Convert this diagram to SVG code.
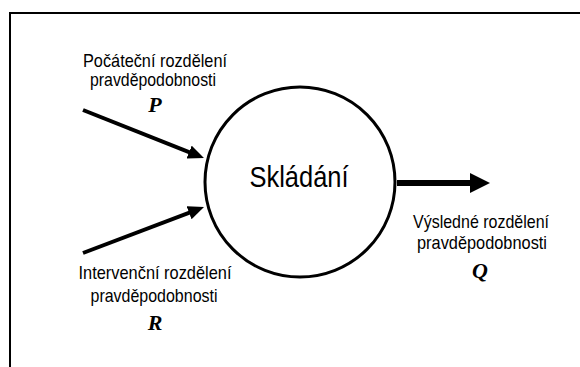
<svg xmlns="http://www.w3.org/2000/svg" width="580" height="367" viewBox="0 0 580 367">
  <style>
    .frame { fill: none; stroke: #000; stroke-width: 2; }
    .node { fill: #fff; stroke: #000; stroke-width: 3; }
    .lbl { font-family: "Liberation Sans", Arial, sans-serif; font-size: 19px; fill: #000; text-anchor: middle; }
    .big { font-family: "Liberation Sans", Arial, sans-serif; font-size: 29px; fill: #000; text-anchor: middle; }
    .sym { font-family: "Liberation Serif", "Times New Roman", serif; font-size: 22px; font-weight: bold; font-style: italic; fill: #000; text-anchor: middle; }
    .in { stroke: #000; stroke-width: 4; fill: none; }
    .out { stroke: #000; stroke-width: 6; fill: none; }
  </style>
  <defs>
    <marker id="headIn" markerUnits="userSpaceOnUse" markerWidth="16" markerHeight="14" refX="4" refY="7" orient="auto">
      <path d="M0,0 L16,7 L0,14 z" fill="#000"/>
    </marker>
    <marker id="headOut" markerUnits="userSpaceOnUse" markerWidth="20" markerHeight="20" refX="4" refY="10" orient="auto">
      <path d="M0,0 L20,10 L0,20 z" fill="#000"/>
    </marker>
  </defs>

  <rect width="580" height="367" fill="#fff"/>
  <path class="frame" d="M10,367 V13 H580"/>

  <g id="connectors">
    <line class="in" x1="83" y1="110" x2="192.8" y2="153.6" marker-end="url(#headIn)"/>
    <line class="in" x1="83" y1="253" x2="192.8" y2="211.3" marker-end="url(#headIn)"/>
    <line class="out" x1="397" y1="183" x2="474" y2="183" marker-end="url(#headOut)"/>
  </g>

  <g id="skladani">
    <circle class="node" cx="300" cy="182" r="95"/>
    <text class="big" x="299" y="187" textLength="99" lengthAdjust="spacingAndGlyphs">Skládání</text>
  </g>

  <g id="pocatecni">
    <text class="lbl" x="155" y="67" textLength="144" lengthAdjust="spacingAndGlyphs">Počáteční rozdělení</text>
    <text class="lbl" x="153" y="86" textLength="126" lengthAdjust="spacingAndGlyphs">pravděpodobnosti</text>
    <text class="sym" x="155" y="112">P</text>
  </g>

  <g id="intervencni">
    <text class="lbl" x="155" y="279" textLength="153" lengthAdjust="spacingAndGlyphs">Intervenční rozdělení</text>
    <text class="lbl" x="154" y="302" textLength="127" lengthAdjust="spacingAndGlyphs">pravděpodobnosti</text>
    <text class="sym" x="155" y="330">R</text>
  </g>

  <g id="vysledne">
    <text class="lbl" x="481" y="228" textLength="136" lengthAdjust="spacingAndGlyphs">Výsledné rozdělení</text>
    <text class="lbl" x="482" y="249" textLength="130" lengthAdjust="spacingAndGlyphs">pravděpodobnosti</text>
    <text class="sym" x="480" y="278">Q</text>
  </g>
</svg>
